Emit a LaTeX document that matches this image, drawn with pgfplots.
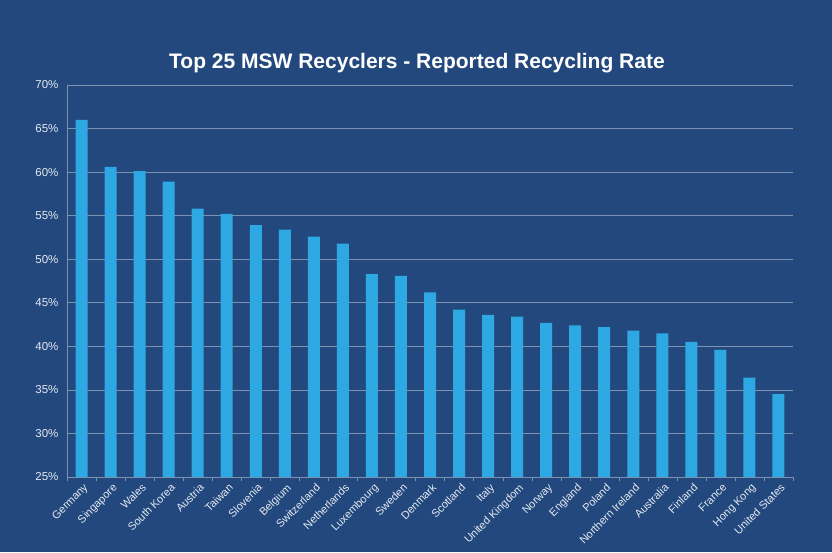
\documentclass[border=0pt]{standalone}
\usepackage{pgfplots}
\pgfplotsset{compat=1.18}
\usepackage{fontspec}
\setmainfont{Liberation Sans}
\definecolor{bg}{RGB}{35,72,125}
\definecolor{barc}{RGB}{45,168,226}
\definecolor{gridc}{RGB}{125,145,178}
\definecolor{txt}{RGB}{228,233,242}
\begin{document}
\begin{tikzpicture}
\fill[bg] (-67pt,-75pt) rectangle (765pt,477pt);
\useasboundingbox (-67pt,-75pt) rectangle (765pt,477pt);
\begin{axis}[at={(0,0)}, anchor=south west, scale only axis,
  width=726pt, height=392pt,
  ybar, bar width=12pt,
  xmin=-0.5, xmax=24.5, ymin=25, ymax=70,
  ytick={25,30,...,70},
  yticklabel={\pgfmathprintnumber{\tick}\%},
  xtick={0,...,24},
  xticklabels={Germany,Singapore,Wales,South Korea,Austria,Taiwan,Slovenia,Belgium,Switzerland,Netherlands,Luxembourg,Sweden,Denmark,Scotland,Italy,United Kingdom,Norway,England,Poland,Northern Ireland,Australia,Finland,France,Hong Kong,United States},
  minor xtick={-0.5,0.5,...,24.5},
  major tick length=0pt,
  minor tick length=4pt,
  tick align=outside,
  minor tick style={gridc},
  x tick label style={rotate=45, anchor=north east, font=\fontsize{11}{13}\selectfont, text=txt, inner sep=1pt, yshift=-4pt, xshift=-2pt},
  y tick label style={font=\fontsize{11.5}{13}\selectfont, text=txt, xshift=-5pt},
  /pgf/number format/assume math mode=true,
  ymajorgrids, grid style={gridc, line width=0.7pt},
  axis x line*=bottom, axis y line*=left,
  axis line style={gridc, line width=0.7pt, -},
  every outer x axis line/.append style={-},
  every outer y axis line/.append style={-},
]
\addplot[fill=barc, draw=none] coordinates {
(0,66.0) (1,60.6) (2,60.1) (3,58.9) (4,55.8) (5,55.2) (6,53.9) (7,53.4) (8,52.6) (9,51.8)
(10,48.3) (11,48.1) (12,46.2) (13,44.2) (14,43.6) (15,43.4) (16,42.7) (17,42.4) (18,42.2)
(19,41.8) (20,41.5) (21,40.5) (22,39.6) (23,36.4) (24,34.5)};
\end{axis}
\node[text=white, font=\fontsize{21}{24}\selectfont\bfseries] at (350pt,414pt) {Top 25 MSW Recyclers - Reported Recycling Rate};
\end{tikzpicture}
\end{document}
